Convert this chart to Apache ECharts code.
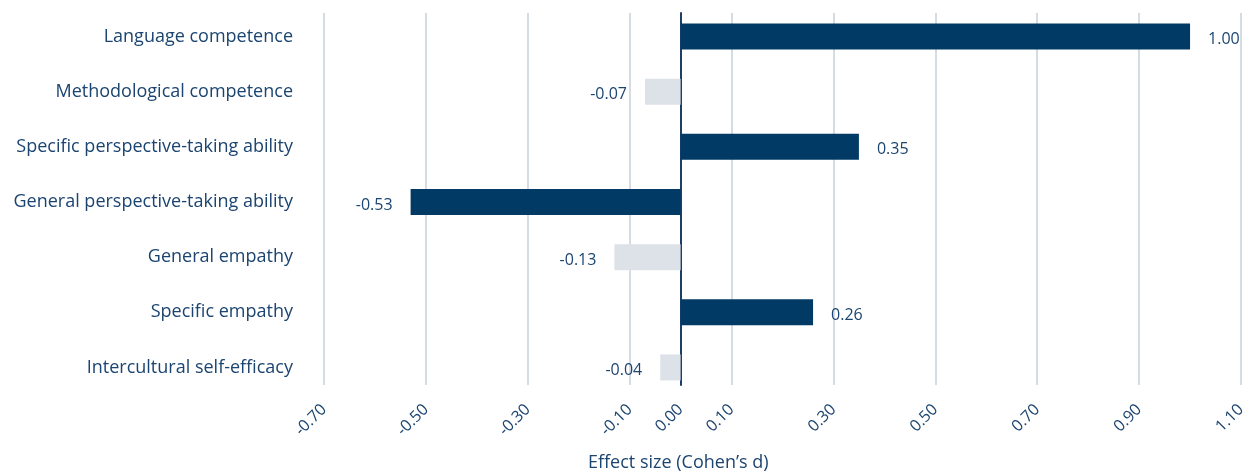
<!DOCTYPE html>
<html>
<head>
<meta charset="utf-8">
<script src="https://cdn.jsdelivr.net/npm/echarts@6/dist/echarts.min.js"></script>
<style>
html,body{margin:0;padding:0;background:#fff;}
#chart{width:1259px;height:474px;}
</style>
</head>
<body>
<div id="chart"></div>
<script>
const categories = [
  'Language competence',
  'Methodological competence',
  'Specific perspective-taking ability',
  'General perspective-taking ability',
  'General empathy',
  'Specific empathy',
  'Intercultural self-efficacy'
];
const effectSizes = [1.00, -0.07, 0.35, -0.53, -0.13, 0.26, -0.04];
const significant = [true, false, true, true, false, true, false];
const tickLabels = ['-0.70','-0.50','-0.30','-0.10','0.00','0.10','0.30','0.50','0.70','0.90','1.10'];
const axisTitle = 'Effect size (Cohen\u2019s d)';

const NAVY = '#003a65';
const LIGHT = '#dde1e8';
const TEXT = '#1b4470';
const GRID = '#c9d1dc';
const FONT = 'Open Sans';

const xMin = -0.7, xMax = 1.1, step = 0.1;
const nTicks = Math.round((xMax - xMin) / step) + 1;
const splitColors = [];
for (let i = 0; i < nTicks; i++) {
  const v = (xMin + i * step).toFixed(2);
  const lab = v === '-0.00' ? '0.00' : v;
  splitColors.push(tickLabels.includes(lab) && lab !== '0.00' ? GRID : 'rgba(0,0,0,0)');
}

const chart = echarts.init(document.getElementById('chart'), null, {renderer: 'canvas'});
chart.setOption({
  animation: false,
  backgroundColor: '#fff',
  textStyle: {fontFamily: FONT},
  title: {
    text: axisTitle,
    left: 583, top: 449,
    textStyle: {fontFamily: FONT, fontSize: 18, fontWeight: 'normal', color: TEXT}
  },
  grid: [
    {left: 324, right: 18, top: 13, bottom: 89},
    {left: 324, right: 18, top: 9, bottom: 79}
  ],
  xAxis: [
    {
      gridIndex: 0, type: 'value', min: xMin, max: xMax, interval: step,
      axisLine: {show: false}, axisTick: {show: false},
      splitLine: {show: true, lineStyle: {color: splitColors, width: 1.5}},
      axisLabel: {
        rotate: 45, margin: 22, fontFamily: FONT, fontSize: 16, color: TEXT,
        formatter: function (v) {
          let s = Number(v).toFixed(2);
          if (s === '-0.00') s = '0.00';
          return tickLabels.includes(s) ? s : '';
        }
      }
    },
    {
      gridIndex: 1, type: 'value', min: xMin, max: xMax, show: false
    }
  ],
  yAxis: [
    {
      gridIndex: 0, type: 'value', min: 0, max: 1,
      axisLine: {show: true, onZero: true, lineStyle: {color: '#1d3f66', width: 2}},
      axisTick: {show: false}, axisLabel: {show: false}, splitLine: {show: false}
    },
    {
      gridIndex: 1, type: 'category', data: categories, inverse: true,
      axisLine: {show: false}, axisTick: {show: false}, splitLine: {show: false},
      axisLabel: {margin: 31, fontFamily: FONT, fontSize: 18, color: TEXT}
    }
  ],
  series: [{
    type: 'bar',
    xAxisIndex: 1, yAxisIndex: 1,
    barWidth: 26,
    data: effectSizes.map((v, i) => ({
      value: v,
      itemStyle: {color: significant[i] ? NAVY : LIGHT},
      label: {position: v >= 0 ? 'right' : 'left'}
    })),
    label: {
      show: true, distance: 18, offset: [0, 3],
      fontFamily: FONT, fontSize: 16, color: TEXT,
      formatter: p => Number(p.value).toFixed(2)
    }
  }]
});
</script>
</body>
</html>
